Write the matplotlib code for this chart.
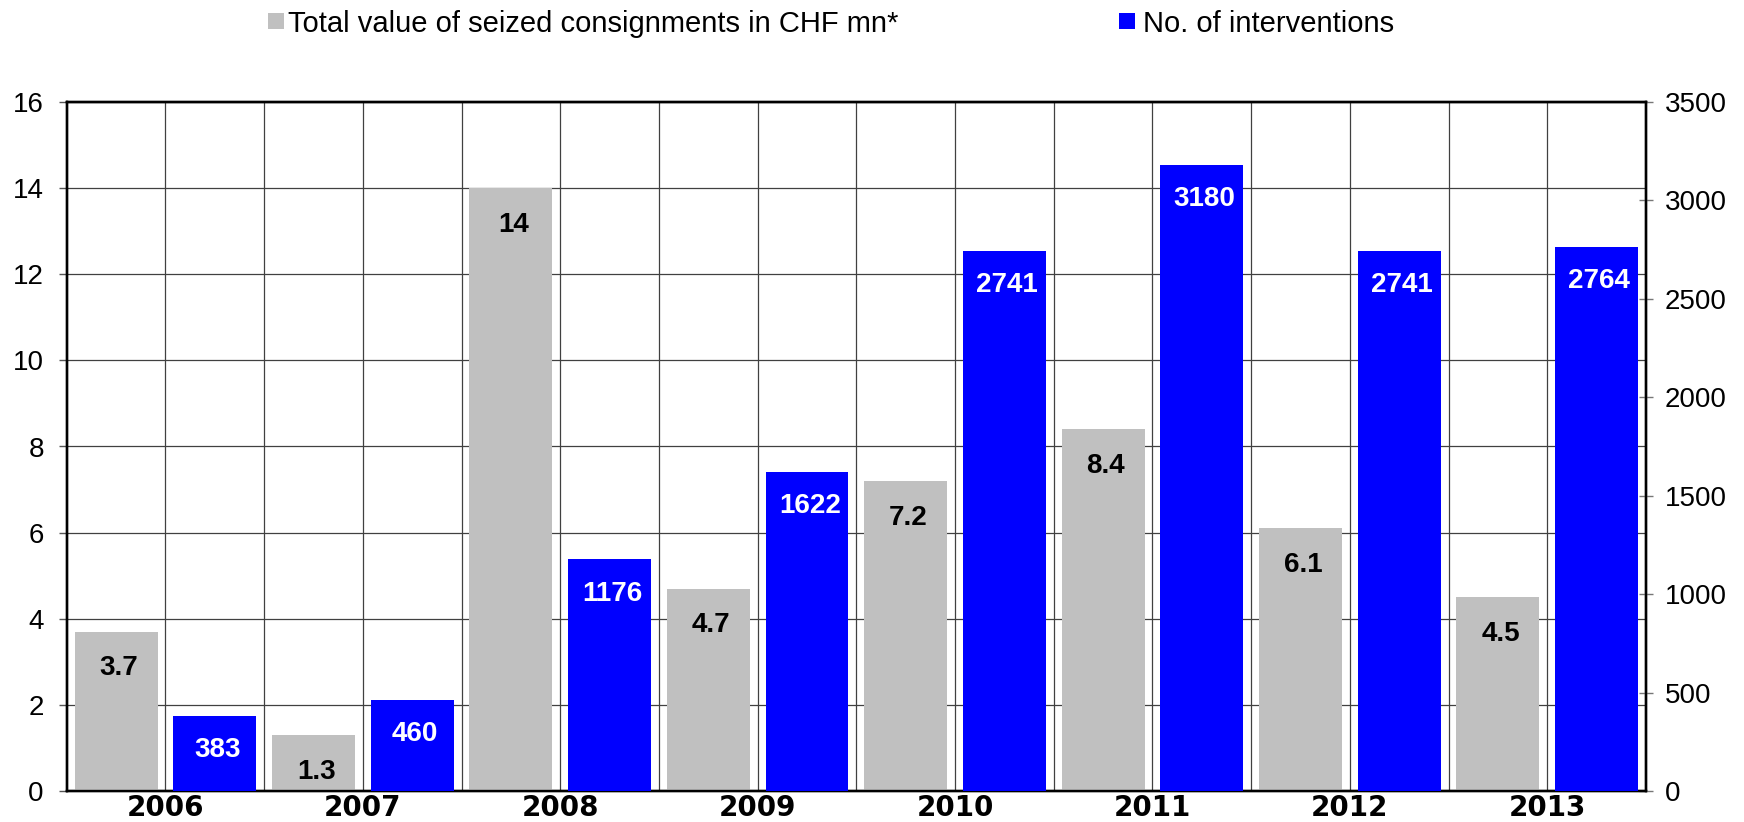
import matplotlib
matplotlib.use('Agg')
import matplotlib.pyplot as plt
from matplotlib.patches import Rectangle
import numpy as np

# ---- data ----
years = ['2006', '2007', '2008', '2009', '2010', '2011', '2012', '2013']
seized_value = [3.7, 1.3, 14, 4.7, 7.2, 8.4, 6.1, 4.5]
value_labels = ['3.7', '1.3', '14', '4.7', '7.2', '8.4', '6.1', '4.5']
interventions = [383, 460, 1176, 1622, 2741, 3180, 2741, 2764]
left_ticks = [0, 2, 4, 6, 8, 10, 12, 14, 16]
right_ticks = [0, 500, 1000, 1500, 2000, 2500, 3000, 3500]
legend_labels = ['Total value of seized consignments in CHF mn*', 'No. of interventions']

GREY = '#C0C0C0'
BLUE = '#0000FF'
GRID = '#404040'

plt.rcParams['font.family'] = ['Liberation Sans', 'DejaVu Sans']

W, H = 1744, 822
fig = plt.figure(figsize=(W / 100, H / 100), dpi=100)
L, R, T, B = 66.7, 1646, 102, 791
ax = fig.add_axes([L / W, 1 - B / H, (R - L) / W, (B - T) / H])
ax2 = ax.twinx()

n = len(years)
base = np.arange(n) * 2
grey_pos = base + 0.5
blue_pos = base + 1.5

ax.bar(grey_pos, seized_value, width=0.84, color=GREY, zorder=3)
ax2.bar(blue_pos, interventions, width=0.84, color=BLUE, zorder=3)

ax.set_xlim(0, 2 * n)
ax.set_ylim(0, 16)
ax2.set_ylim(0, 3500)
ax.set_yticks(left_ticks)
ax2.set_yticks(right_ticks)
ax.set_yticklabels([str(t) for t in left_ticks], fontsize=20)
ax2.set_yticklabels([str(t) for t in right_ticks], fontsize=20)

ax.set_xticks(base + 1)
ax.set_xticklabels(years, fontsize=20, fontweight='bold', family='DejaVu Sans')
ax.set_xticks(base[1:], minor=True)

ax.set_axisbelow(True)
ax.grid(axis='y', which='major', color=GRID, lw=0.9, zorder=0)
ax.grid(axis='x', which='both', color=GRID, lw=0.9, zorder=0)
ax.tick_params(axis='x', which='both', length=0, pad=2.5)
ax.tick_params(axis='y', length=6, width=1, color='#555555', pad=10.5, direction='out')
ax2.tick_params(axis='y', length=10, width=1, color='#777777', pad=8.5, direction='inout')

for a in (ax, ax2):
    for s in a.spines.values():
        s.set_linewidth(1.7)
        s.set_color('black')

# data labels
for xp, v, lab in zip(grey_pos, seized_value, value_labels):
    ax.annotate(lab, (xp, v), xytext=(2, -26.5), textcoords='offset points',
                ha='center', va='center', fontsize=20, fontweight='bold', color='black', zorder=5)
for xp, v in zip(blue_pos, interventions):
    ax2.annotate(str(v), (xp, v), xytext=(2, -24.5), textcoords='offset points',
                 ha='center', va='center', fontsize=20, fontweight='bold', color='white', zorder=5)

# legend (manual)
sq = 16
sq_w, sq_h = sq / W, sq / H
sq_y = 1 - 29.5 / H
base_y = 1 - 32 / H
fig.patches.append(Rectangle((268 / W, sq_y), sq_w, sq_h, transform=fig.transFigure,
                             facecolor=GREY, edgecolor='none'))
fig.text(288 / W, base_y, legend_labels[0], fontsize=21, va='baseline', ha='left')
fig.patches.append(Rectangle((1119 / W, sq_y), sq_w, sq_h, transform=fig.transFigure,
                             facecolor=BLUE, edgecolor='none'))
fig.text(1143 / W, base_y, legend_labels[1], fontsize=21, va='baseline', ha='left')

fig.savefig('out.png', dpi=100)
